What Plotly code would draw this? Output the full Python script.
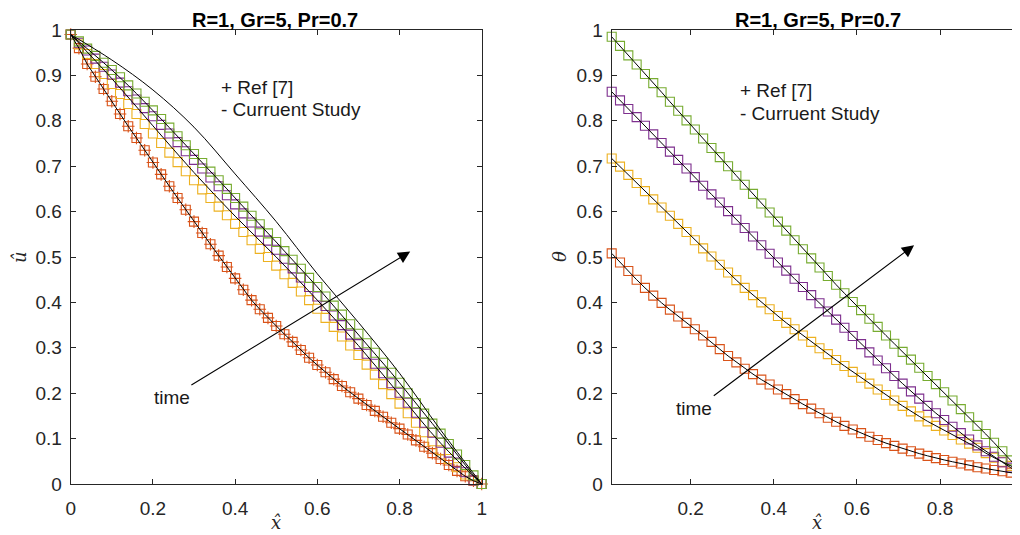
import plotly.graph_objects as go

# ---------------- data: left panel (velocity u-hat) ----------------
x_left = [0.00, 0.02, 0.04, 0.06, 0.08, 0.10, 0.12, 0.14, 0.16, 0.18,
          0.20, 0.22, 0.24, 0.26, 0.28, 0.30, 0.32, 0.34, 0.36, 0.38,
          0.40, 0.42, 0.44, 0.46, 0.48, 0.50, 0.52, 0.54, 0.56, 0.58,
          0.60, 0.62, 0.64, 0.66, 0.68, 0.70, 0.72, 0.74, 0.76, 0.78,
          0.80, 0.82, 0.84, 0.86, 0.88, 0.90, 0.92, 0.94, 0.96, 0.98, 1.00]

u_red = [0.990, 0.960, 0.925, 0.897, 0.870, 0.843, 0.815, 0.788, 0.762, 0.735,
         0.708, 0.682, 0.656, 0.630, 0.604, 0.578, 0.553, 0.528, 0.503, 0.478,
         0.453, 0.428, 0.405, 0.385, 0.366, 0.348, 0.330, 0.313, 0.295, 0.278,
         0.262, 0.246, 0.231, 0.216, 0.202, 0.188, 0.174, 0.161, 0.148, 0.135,
         0.122, 0.109, 0.096, 0.082, 0.068, 0.055, 0.042, 0.029, 0.017, 0.007, 0.000]

u_yellow = [0.990, 0.968, 0.947, 0.925, 0.903, 0.881, 0.859, 0.837, 0.815, 0.793,
            0.772, 0.751, 0.730, 0.709, 0.689, 0.669, 0.649, 0.630, 0.611, 0.592,
            0.573, 0.555, 0.537, 0.518, 0.500, 0.481, 0.462, 0.443, 0.424, 0.405,
            0.386, 0.366, 0.346, 0.325, 0.305, 0.284, 0.263, 0.241, 0.220, 0.198,
            0.177, 0.156, 0.135, 0.114, 0.094, 0.074, 0.055, 0.037, 0.021, 0.008, 0.000]

u_purple = [0.990, 0.972, 0.955, 0.937, 0.919, 0.902, 0.884, 0.865, 0.847, 0.828,
            0.810, 0.791, 0.772, 0.753, 0.733, 0.714, 0.695, 0.675, 0.656, 0.636,
            0.616, 0.596, 0.576, 0.556, 0.536, 0.516, 0.496, 0.475, 0.455, 0.434,
            0.413, 0.392, 0.371, 0.350, 0.329, 0.308, 0.287, 0.265, 0.244, 0.222,
            0.201, 0.179, 0.157, 0.135, 0.113, 0.091, 0.069, 0.047, 0.026, 0.008, 0.000]

u_green = [0.990, 0.975, 0.959, 0.943, 0.928, 0.912, 0.896, 0.878, 0.860, 0.842,
           0.823, 0.804, 0.785, 0.766, 0.746, 0.727, 0.707, 0.688, 0.669, 0.650,
           0.630, 0.611, 0.591, 0.572, 0.552, 0.533, 0.513, 0.494, 0.474, 0.454,
           0.434, 0.413, 0.393, 0.373, 0.352, 0.331, 0.310, 0.289, 0.267, 0.245,
           0.223, 0.200, 0.178, 0.155, 0.133, 0.111, 0.088, 0.065, 0.042, 0.019, 0.000]

# black "current study" curves that do not coincide with a marker series
x_line = [0.0, 0.1, 0.2, 0.3, 0.4, 0.5, 0.6, 0.7, 0.8, 0.9, 1.0]
u_line_mid = [0.990, 0.893, 0.789, 0.686, 0.590, 0.500, 0.405, 0.305, 0.197, 0.090, 0.000]
u_line_top = [0.990, 0.934, 0.868, 0.786, 0.683, 0.578, 0.463, 0.356, 0.244, 0.119, 0.000]

# ---------------- data: right panel (temperature theta) ----------------
x_right = [0.01, 0.03, 0.05, 0.07, 0.09, 0.11, 0.13, 0.15, 0.17, 0.19,
           0.21, 0.23, 0.25, 0.27, 0.29, 0.31, 0.33, 0.35, 0.37, 0.39,
           0.41, 0.43, 0.45, 0.47, 0.49, 0.51, 0.53, 0.55, 0.57, 0.59,
           0.61, 0.63, 0.65, 0.67, 0.69, 0.71, 0.73, 0.75, 0.77, 0.79,
           0.81, 0.83, 0.85, 0.87, 0.89, 0.91, 0.93, 0.95, 0.97, 0.99]

t_red = [0.508, 0.488, 0.469, 0.450, 0.432, 0.415, 0.399, 0.384, 0.369, 0.355,
         0.341, 0.327, 0.313, 0.297, 0.282, 0.268, 0.254, 0.242, 0.230, 0.219,
         0.208, 0.198, 0.187, 0.176, 0.166, 0.156, 0.146, 0.137, 0.128, 0.120,
         0.112, 0.104, 0.097, 0.090, 0.084, 0.078, 0.072, 0.067, 0.062, 0.057,
         0.053, 0.049, 0.045, 0.041, 0.037, 0.034, 0.031, 0.028, 0.025, 0.022]

t_yellow = [0.717, 0.699, 0.681, 0.663, 0.645, 0.627, 0.609, 0.591, 0.573, 0.555,
            0.537, 0.519, 0.501, 0.483, 0.466, 0.449, 0.432, 0.416, 0.400, 0.385,
            0.370, 0.355, 0.341, 0.327, 0.313, 0.299, 0.286, 0.273, 0.260, 0.247,
            0.234, 0.221, 0.208, 0.196, 0.184, 0.172, 0.160, 0.149, 0.138, 0.128,
            0.118, 0.108, 0.098, 0.089, 0.080, 0.068, 0.058, 0.049, 0.040, 0.031]

t_purple = [0.864, 0.845, 0.826, 0.808, 0.789, 0.770, 0.751, 0.732, 0.714, 0.695,
            0.676, 0.657, 0.638, 0.620, 0.601, 0.582, 0.564, 0.545, 0.526, 0.507,
            0.488, 0.470, 0.452, 0.434, 0.416, 0.398, 0.380, 0.362, 0.344, 0.326,
            0.308, 0.290, 0.272, 0.255, 0.238, 0.221, 0.204, 0.188, 0.172, 0.156,
            0.141, 0.126, 0.112, 0.098, 0.085, 0.072, 0.060, 0.048, 0.036, 0.025]

t_green = [0.985, 0.965, 0.944, 0.924, 0.903, 0.883, 0.863, 0.842, 0.822, 0.801,
           0.781, 0.761, 0.740, 0.720, 0.700, 0.679, 0.659, 0.639, 0.618, 0.598,
           0.578, 0.558, 0.537, 0.517, 0.497, 0.477, 0.458, 0.439, 0.420, 0.401,
           0.383, 0.364, 0.346, 0.327, 0.309, 0.291, 0.274, 0.256, 0.238, 0.220,
           0.202, 0.184, 0.165, 0.147, 0.128, 0.110, 0.091, 0.072, 0.052, 0.031]

title_text = "R=1, Gr=5, Pr=0.7"
x_ticks_left = [0, 0.2, 0.4, 0.6, 0.8, 1]
x_ticks_right = [0.2, 0.4, 0.6, 0.8]
y_ticks = [0, 0.1, 0.2, 0.3, 0.4, 0.5, 0.6, 0.7, 0.8, 0.9, 1]

colors = {"red": "#D95319", "yellow": "#EDB120", "purple": "#7E2F8E", "green": "#77AC30"}
AX = "#262626"
FONT = "Arial, Liberation Sans, sans-serif"
OFF = 8                       # page body margin of the browser
W, H = 1020 - OFF, 535 - OFF  # figure size so that it fills the window


def px_x(px):
    return (px - OFF) / W


def px_y(py):
    return 1 - (py - OFF) / H


fig = go.Figure()


def add_markers(x, y, col, xa, ya, symbol="square-open"):
    fig.add_trace(go.Scatter(x=x, y=y, mode="markers", xaxis=xa, yaxis=ya,
                             marker=dict(symbol=symbol, size=9, color=col,
                                         line=dict(width=1.1, color=col)),
                             showlegend=False, cliponaxis=False))


def add_line(x, y, xa, ya, shape="linear"):
    fig.add_trace(go.Scatter(x=x, y=y, mode="lines", xaxis=xa, yaxis=ya,
                             line=dict(color="black", width=1, shape=shape),
                             showlegend=False))


# left panel
add_markers(x_left, u_red, colors["red"], "x", "y", "cross-thin-open")
add_markers(x_left, u_red, colors["red"], "x", "y")
add_markers(x_left, u_yellow, colors["yellow"], "x", "y")
add_markers(x_left, u_purple, colors["purple"], "x", "y")
add_markers(x_left, u_green, colors["green"], "x", "y")
add_line(x_left, u_red, "x", "y")
add_line(x_line, u_line_mid, "x", "y", "spline")
add_line(x_left, u_green, "x", "y")
add_line(x_line, u_line_top, "x", "y", "spline")

# right panel
add_markers(x_right, t_red, colors["red"], "x2", "y2")
add_markers(x_right, t_yellow, colors["yellow"], "x2", "y2")
add_markers(x_right, t_purple, colors["purple"], "x2", "y2")
add_markers(x_right, t_green, colors["green"], "x2", "y2")
for ys in (t_red, t_yellow, t_purple, t_green):
    add_line(x_right, ys, "x2", "y2")

axis_common = dict(showline=True, linecolor=AX, linewidth=1, mirror="ticks",
                   ticks="inside", ticklen=5, tickcolor=AX, showgrid=False,
                   zeroline=False, automargin=False,
                   tickfont=dict(family=FONT, size=19, color=AX))

fig.update_layout(
    width=W, height=H,
    margin=dict(l=0, r=0, t=0, b=0, pad=0, autoexpand=False),
    paper_bgcolor="white", plot_bgcolor="white",
    showlegend=False,
    xaxis=dict(domain=[px_x(70.7), px_x(481.7)], range=[0, 1], tickvals=x_ticks_left,
               anchor="y", ticklabelstandoff=7, **axis_common),
    yaxis=dict(domain=[px_y(484), px_y(30)], range=[0, 1], tickvals=y_ticks,
               anchor="x", ticklabelstandoff=4, **axis_common),
    xaxis2=dict(domain=[px_x(611.7), px_x(1019)], range=[0.01, 0.99], tickvals=x_ticks_right,
                anchor="y2", ticklabelstandoff=7, **axis_common),
    yaxis2=dict(domain=[px_y(484), px_y(30)], range=[0, 1], tickvals=y_ticks,
                anchor="x2", ticklabelstandoff=4, **axis_common),
)

txt = dict(family=FONT, size=19, color="#1a1a1a")
ann = []
# titles
for cx in (275, 818):
    ann.append(dict(text="<b>" + title_text + "</b>", xref="paper", yref="paper",
                    x=px_x(cx), y=1.0, xanchor="center", yanchor="top", showarrow=False,
                    borderpad=0, font=dict(family=FONT, size=20, color="black")))
# axis labels
serif = dict(family="DejaVu Serif, Liberation Serif, serif", size=18, color=AX)
for label, (px, py), ang in (("<i>û</i>", (20, 257), -90), ("<i>θ</i>", (560, 257), -90),
                             ("<i>x̂</i>", (276, 522), 0), ("<i>x̂</i>", (817, 522), 0)):
    ann.append(dict(text=label, xref="paper", yref="paper", x=px_x(px), y=px_y(py),
                    xanchor="center", yanchor="middle", showarrow=False,
                    textangle=ang, font=serif))
# legend-like texts
for xr, yr, xx, y1, y2 in (("x", "y", 0.362, 0.874, 0.826), ("x2", "y2", 0.313, 0.866, 0.8165)):
    ann.append(dict(text="+ Ref [7]", xref=xr, yref=yr, x=xx, y=y1, xanchor="left",
                    yanchor="middle", showarrow=False, font=txt))
    ann.append(dict(text="- Curruent Study", xref=xr, yref=yr, x=xx, y=y2, xanchor="left",
                    yanchor="middle", showarrow=False, font=txt))
# time arrows
ann.append(dict(x=0.826, y=0.512, ax=0.290, ay=0.216, xref="x", yref="y", axref="x", ayref="y",
                showarrow=True, arrowhead=2, arrowsize=2.2, arrowwidth=1.1, arrowcolor="black", text=""))
ann.append(dict(text="time", xref="x", yref="y", x=0.247, y=0.191, xanchor="center",
                yanchor="middle", showarrow=False, font=txt))
ann.append(dict(x=0.7375, y=0.526, ax=0.252, ay=0.192, xref="x2", yref="y2", axref="x2", ayref="y2",
                showarrow=True, arrowhead=2, arrowsize=2.2, arrowwidth=1.1, arrowcolor="black", text=""))
ann.append(dict(text="time", xref="x2", yref="y2", x=0.209, y=0.166, xanchor="center",
                yanchor="middle", showarrow=False, font=txt))

fig.update_layout(annotations=ann)
fig.write_html("out.html")
